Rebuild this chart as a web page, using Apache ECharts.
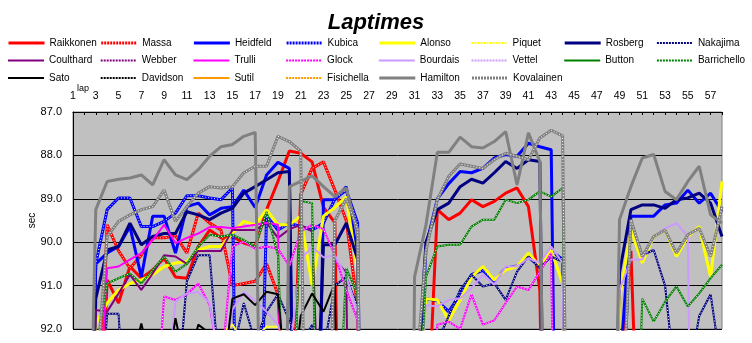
<!DOCTYPE html>
<html>
<head>
<meta charset="utf-8">
<script src="https://cdn.jsdelivr.net/npm/echarts@6/dist/echarts.min.js"></script>
<style>
html, body { margin: 0; padding: 0; background: #ffffff; }
#chart { width: 752px; height: 343px; }
</style>
</head>
<body>
<div id="chart"></div>
<script>
// Lap numbers (category axis)
const laps = [1,2,3,4,5,6,7,8,9,10,11,12,13,14,15,16,17,18,19,20,21,22,23,24,25,26,27,28,29,30,
  31,32,33,34,35,36,37,38,39,40,41,42,43,44,45,46,47,48,49,50,51,52,53,54,55,56,57,58];

// Lap times in seconds, lap 1 first. Safety-car and pit laps sit far above 92 s.
const raikkonen = [105,101.8,97,90.87,91.4,90.56,90.83,90.64,90.37,90.8,
  90.83,90.1,89.72,89.9,89.87,90.02,90.1,89.25,88.6,87.9,
  87.95,88.15,89.2,89.55,108,97,113,121,124,118,
  104,95,89.25,89.48,89.33,89.02,89.18,89.06,88.87,88.75,
  89.18,91.1,106,110,121,120,117,105,93,90.2,
  97.7,100];
const massa = [106,103,96,89.6,90.2,90.6,90.3,89.9,89.9,89.85,
  90.25,89.33,89.56,89.72,91.0,90.95,90.9,90.5,91.2,96,
  88.9,88.3,88.15,88.8,89.5,91.5,113,121];
const heidfeld = [104,100.8,90.5,90.25,90.1,89.64,90.8,89.4,89.4,90.25,
  89.18,89.1,89.37,89.22,89.18,88.8,89.2,88.45,88.16,88.3,
  106.9,103,89.02,89.02,88.72,90.33,113,120,124,117,
  96,90.1,89.0,88.65,88.37,88.4,88.3,88.06,87.98,88.02,
  87.72,87.8,87.87,108,121,120,117,102,93,89.4,
  89.4,89.4,89.14,89.1,88.8,89.1,88.87,89.3];
const kubica = [104.4,100.5,90.5,89.25,88.98,88.98,89.64,89.64,89.52,89.33,
  88.93,88.93,88.98,89.02,88.75,108,99,89.4,89.72,89.56,
  89.64,89.72,89.56,89.0,88.8,89.56,113,121,124,118,
  94,91.3,91.35,91.6,91.2,90.75,90.65,90.9,90.6,90.55,
  90.35,90.55,90.2,90.4,110,122];
const alonso = [104.7,101.5,91.87,91.4,91.1,90.95,90.87,90.75,90.56,90.48,
  90.45,90.18,90.1,90.1,89.8,89.52,89.6,89.25,89.6,89.6,
  89.4,91.0,89.4,89.2,88.95,90.7,113,121,124,118,
  95,91.3,91.33,91.8,91.33,90.8,90.56,90.87,90.64,90.56,
  90.25,90.56,90.18,90.95,111,121,118,102,91.3,89.72,
  90.48,89.87,89.72,90.33,89.87,89.64,90.8,88.6];
const piquet = [106,103,97,94,93.5,93,92.8,92.6,92.5,92.4,
  92.4,92.3,92.2,92.1,91.9,92.3,92.2,91.95,91.95,92.2,
  93,92.05,92.3,92.5,92.4,93,113,121,124,120];
const rosberg = [104.2,101,91.3,90.18,90.1,89.56,90.06,89.87,89.8,89.8,
  89.3,89.37,89.48,89.33,89.22,88.87,88.72,88.56,88.4,88.37,
  107.2,97,90.06,90.06,89.56,90.4,113.5,120.5,124,117.5,
  94.2,90.0,89.25,89.1,88.72,88.55,88.64,88.4,88.14,88.3,
  88.1,88.14,109.5,121,121,119,117,101,90.7,89.25,
  89.14,89.14,89.22,89.02,88.98,88.87,89.1,89.87];
const nakajima = [105.4,102.4,95,91.65,91.65,96,94.5,93.8,93.2,94,
  90.9,90.3,90.3,93.5,92.6,91.4,92.3,91.6,91.2,91.8,
  92.4,91.9,92.5,91.0,90.8,91.5,113,121,124,118,
  99,93,92.3,91.7,91.1,90.75,91.02,90.95,91.33,90.68,
  90.33,90.6,90.33,90.45,111,121,118,106,96,89.5,
  90.3,90.18,91.0,93.5,93.2,91.7,91.2,93];
const coulthard = [104.5,101.8,91.56,91.6,91.18,90.75,91.1,90.72,90.3,90.33,
  90.5,90.2,90.2,90.2,89.72,89.72,89.72,89.55,89.9,89.7,
  89.6,89.75,97,90.4,90.7,112];
const webber = [];
const trulli = [104.8,101.6,95,90.6,90.56,90.4,90.25,89.95,89.6,90.02,
  89.9,89.8,89.65,89.65,89.68,89.64,89.6,89.55,89.6,108];
const glock = [105.2,102.5,98,96,94.5,93.5,92.8,95,91.25,91.33,
  91.2,90.95,91.45,93,90.1,89.98,90.15,90.1,90.15,90.55,
  89.75,89.6,89.7,90.3,91.1,91.8,113,121,124,118,
  101,96,91.9,91.83,92.0,91.2,91.9,91.8,91.4,91.02,
  91.1,90.68,90.25,112];
const bourdais = [106,103,98,96,95,94.5,94,93.6,94,91.37,
  91.18,91.15,91.4,93,91.55,91.15,91.35,91.6,91.9,92.6,
  90.4,90.1,90.35,90.3,90.8,91.6,113,121,124,118,
  95,91.45,91.48,91.33,91.3,91.06,90.75,90.98,90.56,90.56,
  90.37,90.48,90.1,90.48,111,121,118,106,91.1,90.4,
  90.4,89.87,89.68,89.56,89.87,112];
const vettel = [];
const button = [];
const barrichello = [105,102,92.5,90.95,90.83,90.72,90.95,90.64,90.33,90.68,
  90.5,90.1,89.83,89.87,89.83,89.95,90.1,89.3,90.3,97,
  89.05,89.1,104,96,90.6,91.2,113,121,124,118,
  96,90.8,90.1,90.06,90.06,89.64,89.48,89.48,89.02,89.1,
  89.02,88.83,88.95,88.75,111,121,118,110,103,99,
  91.3,91.83,91.37,91.02,91.48,91.18,90.83,90.52];
const sato = [106.5,103.5,98,95,94,93,91.87,93,93.5,91.75,
  93,91.9,92.1,93.5,91.3,91.2,91.45,91.14,91.2,94,
  91.7,91.18,91.6,90.95,108,101,113,121,124,118,104];
const davidson = [];
const sutil = [];
const fisichella = [];
const hamilton = [104.6,101.2,89.25,88.6,88.55,88.52,88.45,88.68,88.1,88.45,
  88.56,88.33,88.02,87.8,87.75,87.56,87.47,104.2,108,88.72,
  88.6,88.47,88.72,88.95,88.75,89.8,112,121,125,118,
  90.8,89.6,87.93,87.93,87.58,87.8,87.83,87.68,87.45,88.68,
  87.48,88.14,109,118,122,120,116,104,89.48,88.72,
  88.06,87.98,88.83,89.02,88.6,88.25,89.37,89.56];
const kovalainen = [105.5,101.5,93.3,89.87,89.52,89.37,89.25,89.18,88.8,89.52,
  89.18,88.87,88.72,88.75,88.72,88.4,88.25,88.25,87.56,87.68,
  87.9,107.5,99.8,89.5,89.0,89.7,113,121,124,117,
  93.5,90.2,89.02,88.48,88.2,88.25,88.3,88.1,87.95,88.02,
  88.1,87.6,87.42,87.55,110,121,118,107,95.5,89.48,
  90.33,89.87,89.72,90.25,89.83,89.68,90.33,89.18];

// Driver names in legend order, with their lap-time arrays
const drivers = [
  ['Raikkonen', raikkonen], ['Massa', massa], ['Heidfeld', heidfeld], ['Kubica', kubica],
  ['Alonso', alonso], ['Piquet', piquet], ['Rosberg', rosberg], ['Nakajima', nakajima],
  ['Coulthard', coulthard], ['Webber', webber], ['Trulli', trulli], ['Glock', glock],
  ['Bourdais', bourdais], ['Vettel', vettel], ['Button', button], ['Barrichello', barrichello],
  ['Sato', sato], ['Davidson', davidson], ['Sutil', sutil], ['Fisichella', fisichella],
  ['Hamilton', hamilton], ['Kovalainen', kovalainen]
];

// Line look per driver: colour, width, and whether it carries a white dotted core
const looks = {
  Raikkonen:  { color: '#FF0000', width: 3, dotted: false },
  Massa:      { color: '#FF0000', width: 3, dotted: true },
  Heidfeld:   { color: '#0000FF', width: 3, dotted: false },
  Kubica:     { color: '#0000FF', width: 3, dotted: true },
  Alonso:     { color: '#FFFF00', width: 3, dotted: false },
  Piquet:     { color: '#FFFF00', width: 2, dotted: true },
  Rosberg:    { color: '#000080', width: 3, dotted: false },
  Nakajima:   { color: '#000080', width: 2, dotted: true },
  Coulthard:  { color: '#800080', width: 2, dotted: false },
  Webber:     { color: '#800080', width: 2, dotted: true },
  Trulli:     { color: '#FF00FF', width: 2, dotted: false },
  Glock:      { color: '#FF00FF', width: 2, dotted: true },
  Bourdais:   { color: '#CC99FF', width: 2, dotted: false },
  Vettel:     { color: '#CC99FF', width: 2, dotted: true },
  Button:     { color: '#008000', width: 2, dotted: false },
  Barrichello:{ color: '#008000', width: 2, dotted: true },
  Sato:       { color: '#000000', width: 2, dotted: false },
  Davidson:   { color: '#000000', width: 2, dotted: true },
  Sutil:      { color: '#FF9900', width: 2, dotted: false },
  Fisichella: { color: '#FF9900', width: 2, dotted: true },
  Hamilton:   { color: '#808080', width: 3, dotted: false },
  Kovalainen: { color: '#808080', width: 3, dotted: true }
};

const FONT = "'Liberation Sans', Arial, sans-serif";

const series = [];
drivers.forEach(([name, data]) => {
  const lk = looks[name];
  series.push({
    name: name, type: 'line', data: data, symbol: 'none', clip: true,
    lineStyle: { color: lk.color, width: lk.width }, itemStyle: { color: lk.color },
    emphasis: { disabled: true }, silent: true
  });
  if (lk.dotted) {
    series.push({
      name: name, type: 'line', data: data, symbol: 'none', clip: true,
      lineStyle: { color: '#FFFFFF', width: 1, type: [1, 2] }, itemStyle: { color: lk.color },
      emphasis: { disabled: true }, silent: true
    });
  }
});

// One legend block per driver, laid out in a grid of 8 columns
const legends = drivers.map(([name], i) => {
  const lk = looks[name];
  return {
    data: [{ name: name, lineStyle: { width: lk.width, type: lk.dotted ? [2, 1] : 'solid' } }],
    left: 7 + (i % 8) * 92.7,
    top: 38 + Math.floor(i / 8) * 17.5,
    padding: 0,
    itemWidth: 36,
    itemHeight: 12,
    itemGap: 0,
    selectedMode: false,
    itemStyle: { opacity: 0 },
    textStyle: { fontSize: 10, color: '#000', fontFamily: FONT }
  };
});

const chart = echarts.init(document.getElementById('chart'));
chart.setOption({
  animation: false,
  backgroundColor: '#FFFFFF',
  title: {
    text: 'Laptimes', left: 'center', top: 7,
    textStyle: { fontSize: 22, fontWeight: 'bold', fontStyle: 'italic', color: '#000', fontFamily: FONT }
  },
  legend: legends,
  grid: {
    left: 73, right: 30, top: 112, bottom: 14,
    show: true, backgroundColor: '#C0C0C0', borderColor: '#808080', borderWidth: 1
  },
  xAxis: {
    type: 'category', data: laps, position: 'top', boundaryGap: false,
    axisLine: { lineStyle: { color: '#000', width: 1 } },
    axisTick: { inside: true, length: 3, interval: 0, lineStyle: { color: '#000' } },
    axisLabel: { interval: 1, fontSize: 10.5, color: '#000', margin: 10, fontFamily: FONT, hideOverlap: false },
    splitLine: { show: false }
  },
  yAxis: {
    type: 'value', min: 87, max: 92, interval: 1, inverse: true,
    name: 'sec', nameLocation: 'middle', nameGap: 36, nameRotate: 90, nameMoveOverlap: false,
    nameTextStyle: { fontSize: 10, color: '#000', fontFamily: FONT },
    axisLine: { show: true, lineStyle: { color: '#000', width: 1 } },
    axisTick: { show: false },
    axisLabel: { fontSize: 11, color: '#000', margin: 11, fontFamily: FONT,
      formatter: v => v.toFixed(1) },
    splitLine: { show: true, lineStyle: { color: '#000', width: 1 } }
  },
  graphic: [
    { type: 'text', left: 77, top: 84, style: { text: 'lap', fontSize: 9, fill: '#000', font: "9px 'Liberation Sans', Arial" } }
  ],
  series: series
});
</script>
</body>
</html>
